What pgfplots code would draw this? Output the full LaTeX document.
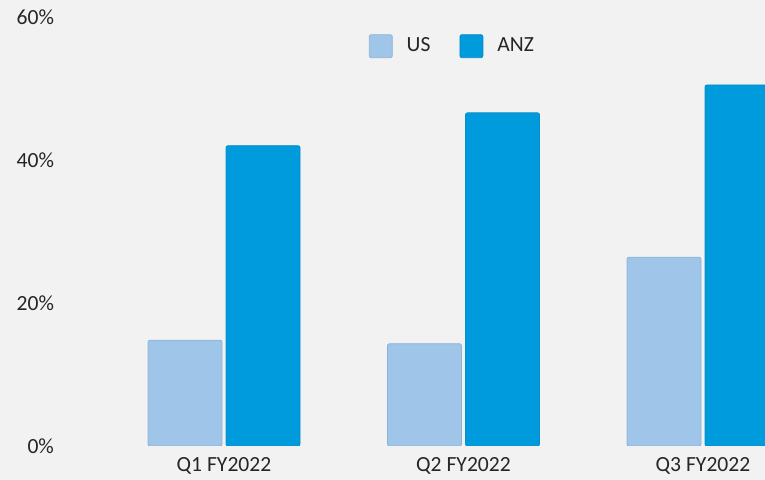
\documentclass[border=0pt]{standalone}
\usepackage{fontspec}
\setmainfont{Carlito}
\usepackage{pgfplots}
\pgfplotsset{compat=1.18}

\definecolor{bg}{HTML}{F2F2F2}
\definecolor{usfill}{HTML}{9FC5E8}
\definecolor{usedge}{HTML}{8DB3D6}
\definecolor{anzfill}{HTML}{009BDD}
\definecolor{anzedge}{HTML}{0A8CC4}
\definecolor{txt}{HTML}{262626}

\begin{document}
\begin{tikzpicture}
  % page = 765 x 480 px, 1 px = 0.5pt
  \fill[bg] (0,0) rectangle (382.5pt,240pt);
  \path[use as bounding box] (0,0) rectangle (382.5pt,240pt);
  \begin{axis}[
    at={(30pt,17pt)}, anchor=south west,
    scale only axis,
    width=352.5pt, height=214.5pt,
    xmin=-0.6848, xmax=2.2589,
    ymin=0, ymax=60,
    clip=true,
    xtick={0,1,2},
    xticklabels={Q1 FY2022, Q2 FY2022, Q3 FY2022},
    ytick={0,20,40,60},
    yticklabel={\pgfmathprintnumber{\tick}\%},
    major tick length=0pt,
    tick label style={font=\fontsize{10.8pt}{13pt}\selectfont, text=txt},
    /pgf/number format/assume math mode=true,
    xticklabel style={yshift=-2pt},
    yticklabel style={xshift=0.5pt},
    axis x line*=bottom, axis y line*=left,
    x axis line style={draw=none}, y axis line style={draw=none},
    legend style={
      at={(0.558,0.932)}, anchor=center,
      draw=none, fill=none,
      font=\fontsize{10.8pt}{13pt}\selectfont, text=txt,
      legend columns=2,
      /tikz/every odd column/.append style={column sep=5pt},
      /tikz/every even column/.append style={column sep=12.5pt},
      legend cell align=left,
    },
    legend image code/.code={
      \draw[#1, rounded corners=1pt] (0pt,-5.75pt) rectangle (11.5pt,5.75pt);
    },
  ]
    \addplot[ybar, bar width=37pt, bar shift=-19.5pt,
      fill=usfill, draw=usedge, line width=0.4pt, rounded corners=1pt]
      coordinates {(0,14.8) (1,14.3) (2,26.4)};
    \addlegendentry{US}
    \addplot[ybar, bar width=37pt, bar shift=19.5pt,
      fill=anzfill, draw=anzedge, line width=0.4pt, rounded corners=1pt]
      coordinates {(0,42.0) (1,46.6) (2,50.5)};
    \addlegendentry{ANZ}
  \end{axis}
\end{tikzpicture}
\end{document}
